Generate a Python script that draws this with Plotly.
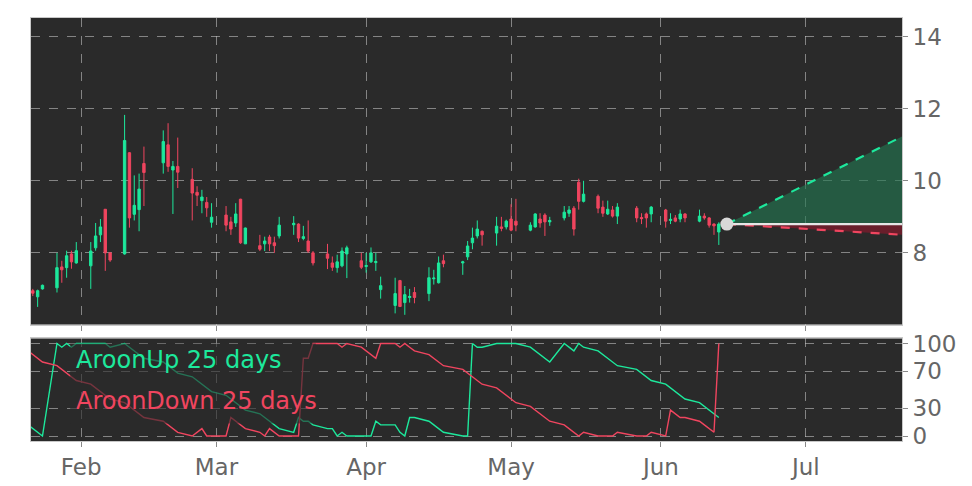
import plotly.graph_objects as go

dates = [
    "2025-01-21", "2025-01-22", "2025-01-23", "2025-01-24",
    "2025-01-27", "2025-01-28", "2025-01-29", "2025-01-30", "2025-01-31",
    "2025-02-03", "2025-02-04", "2025-02-05", "2025-02-06", "2025-02-07",
    "2025-02-10", "2025-02-11", "2025-02-12", "2025-02-13", "2025-02-14",
    "2025-02-18", "2025-02-19", "2025-02-20", "2025-02-21",
    "2025-02-24", "2025-02-25", "2025-02-26", "2025-02-27", "2025-02-28",
    "2025-03-03", "2025-03-04", "2025-03-05", "2025-03-06", "2025-03-07",
    "2025-03-10", "2025-03-11", "2025-03-12", "2025-03-13", "2025-03-14",
    "2025-03-17", "2025-03-18", "2025-03-19", "2025-03-20", "2025-03-21",
    "2025-03-24", "2025-03-25", "2025-03-26", "2025-03-27", "2025-03-28",
    "2025-03-31", "2025-04-01", "2025-04-02", "2025-04-03", "2025-04-04",
    "2025-04-07", "2025-04-08", "2025-04-09", "2025-04-10", "2025-04-11",
    "2025-04-14", "2025-04-15", "2025-04-16", "2025-04-17",
    "2025-04-21", "2025-04-22", "2025-04-23", "2025-04-24", "2025-04-25",
    "2025-04-28", "2025-04-29", "2025-04-30", "2025-05-01", "2025-05-02",
    "2025-05-05", "2025-05-06", "2025-05-07", "2025-05-08", "2025-05-09",
    "2025-05-12", "2025-05-13", "2025-05-14", "2025-05-15", "2025-05-16",
    "2025-05-19", "2025-05-20", "2025-05-21", "2025-05-22", "2025-05-23",
    "2025-05-27", "2025-05-28", "2025-05-29", "2025-05-30",
    "2025-06-02", "2025-06-03", "2025-06-04", "2025-06-05", "2025-06-06",
    "2025-06-09", "2025-06-10", "2025-06-11", "2025-06-12", "2025-06-13",
]

open_ = [
    6.85, 6.95, 6.78, 7.00,
    7.03, 7.61, 7.59, 7.97, 7.72,
    7.64, 8.14, 8.50, 9.21, 8.00,
    7.97, 10.78, 9.07, 9.20, 10.48,
    10.50, 11.00, 10.30, 10.40,
    10.04, 9.68, 9.45, 9.40, 8.85,
    9.05, 8.86, 8.83, 9.49, 8.25,
    8.20, 8.25, 8.44, 8.28, 8.47,
    8.78, 8.80, 8.40, 8.33, 8.00,
    7.97, 7.72, 7.59, 7.64, 7.97,
    7.78, 7.62, 7.75, 7.73, 6.98,
    6.54, 7.23, 6.62, 6.76, 6.90,
    6.87, 7.28, 7.17, 7.78,
    7.72, 7.89, 8.28, 8.47, 8.60,
    8.55, 8.72, 8.72, 8.94, 8.88,
    8.63, 8.72, 8.94, 9.05, 8.86,
    8.97, 9.10, 9.24, 9.96, 9.43,
    9.57, 9.27, 9.08, 9.19, 9.02,
    9.24, 8.98, 9.08, 9.08,
    9.19, 8.90, 8.97, 8.94, 9.08,
    8.88, 9.02, 8.97, 8.80, 8.58,
]

high = [
    7.00, 7.00, 6.98, 7.12,
    8.00, 7.78, 8.06, 8.06, 8.30,
    8.30, 8.83, 8.94, 9.21, 8.02,
    11.83, 10.80, 10.15, 10.20, 10.95,
    11.40, 11.60, 10.55, 11.20,
    10.35, 9.85, 9.75, 9.55, 9.38,
    9.30, 9.00, 9.38, 9.50, 8.70,
    8.50, 8.45, 8.50, 8.45, 9.00,
    9.02, 8.82, 8.75, 8.90, 8.05,
    8.25, 7.90, 7.95, 8.15, 8.20,
    8.00, 8.00, 8.15, 8.00, 7.34,
    7.31, 7.25, 7.08, 7.00, 7.05,
    7.60, 7.53, 7.90, 7.95,
    7.78, 8.33, 8.70, 8.90, 8.62,
    9.00, 9.00, 8.92, 9.35, 9.50,
    8.85, 9.10, 9.10, 9.10, 9.00,
    9.30, 9.30, 9.30, 10.06, 10.00,
    9.62, 9.45, 9.45, 9.30, 9.38,
    9.30, 9.10, 9.12, 9.30,
    9.22, 9.10, 9.05, 9.20, 9.10,
    9.20, 9.10, 8.99, 8.82, 8.85,
]

low = [
    6.70, 6.80, 6.50, 6.98,
    6.90, 7.17, 7.31, 7.56, 7.70,
    7.00, 8.06, 8.30, 7.50, 7.75,
    7.95, 8.70, 8.90, 8.60, 9.30,
    10.20, 10.25, 9.08, 9.80,
    8.90, 9.30, 9.10, 9.00, 8.70,
    8.60, 8.50, 8.72, 8.25, 8.25,
    8.05, 8.05, 8.05, 8.00, 8.40,
    8.50, 8.30, 8.35, 8.00, 7.65,
    7.55, 7.50, 7.45, 7.60, 7.30,
    7.55, 7.45, 7.72, 7.50, 6.73,
    6.32, 6.50, 6.28, 6.62, 6.60,
    6.66, 7.12, 7.15, 7.60,
    7.39, 7.80, 8.10, 8.40, 8.20,
    8.20, 8.60, 8.65, 8.60, 8.60,
    8.60, 8.70, 8.70, 8.47, 8.75,
    8.90, 9.00, 8.48, 9.20, 9.40,
    9.10, 9.00, 9.05, 8.98, 8.80,
    8.85, 8.80, 8.70, 8.85,
    8.70, 8.80, 8.85, 8.85, 8.85,
    8.85, 8.92, 8.70, 8.50, 8.22,
]

close = [
    6.95, 6.88, 6.95, 7.10,
    7.59, 7.53, 7.92, 7.75, 8.06,
    8.05, 8.47, 8.72, 8.00, 7.80,
    11.12, 8.97, 9.32, 9.77, 10.23,
    11.09, 10.40, 10.40, 10.24,
    9.66, 9.60, 9.55, 9.25, 8.99,
    8.77, 8.66, 9.08, 8.28, 8.69,
    8.10, 8.33, 8.25, 8.20, 8.77,
    8.82, 8.41, 8.45, 8.05, 7.72,
    7.85, 7.60, 7.75, 8.05, 8.14,
    7.60, 7.65, 8.00, 7.76, 7.09,
    6.87, 6.51, 6.84, 6.79, 6.76,
    7.31, 7.30, 7.72, 7.70,
    7.75, 8.19, 8.41, 8.66, 8.50,
    8.74, 8.68, 8.88, 8.63, 8.77,
    8.77, 9.08, 8.83, 8.86, 8.90,
    9.13, 9.19, 8.66, 9.43, 9.63,
    9.24, 9.10, 9.21, 9.02, 9.27,
    8.97, 8.95, 8.97, 9.27,
    8.88, 8.93, 8.88, 9.08, 8.97,
    9.02, 8.97, 8.77, 8.75, 8.80,
]

aroon_up = [
    12, 8, 4, 0,
    100, 96, 100, 96, 100,
    100, 100, 100, 100, 96,
    100, 96, 92, 88, 84,
    80, 76, 72, 68,
    64, 60, 56, 52, 48,
    44, 40, 36, 32, 28,
    24, 20, 16, 12, 8,
    4, 20, 16, 16, 12,
    8, 8, 0, 4, 0,
    0, 0, 0, 16, 12,
    12, 4, 0, 20, 20,
    16, 12, 8, 4,
    0, 0, 100, 96, 96,
    100, 100, 100, 100, 100,
    96, 92, 88, 84, 80,
    100, 96, 92, 100, 96,
    92, 88, 84, 80, 76,
    72, 68, 64, 60,
    56, 52, 48, 44, 40,
    36, 32, 28, 24, 20,
]

aroon_down = [
    92, 88, 84, 80,
    76, 72, 68, 64, 60,
    56, 52, 48, 44, 40,
    36, 32, 28, 24, 20,
    16, 12, 8, 4,
    0, 4, 8, 0, 0,
    0, 20, 16, 12, 8,
    4, 0, 8, 4, 0,
    0, 0, 84, 84, 100,
    100, 100, 100, 96, 100,
    96, 92, 88, 84, 100,
    100, 96, 100, 96, 92,
    88, 84, 80, 76,
    72, 68, 64, 60, 56,
    52, 48, 44, 40, 36,
    32, 28, 24, 20, 16,
    12, 8, 4, 0, 4,
    0, 0, 0, 0, 4,
    0, 0, 0, 4,
    0, 28, 24, 20, 20,
    16, 12, 8, 4, 100,
]

proj_x = ["2025-06-14 16:00", "2025-07-21 06:00"]
proj_mid = [8.80, 8.80]
proj_up = [8.80, 11.25]
proj_down = [8.80, 8.50]

price_ticks = [8, 10, 12, 14]
aroon_ticks = [0, 30, 70, 100]
month_ticks = ["2025-02-01", "2025-03-01", "2025-04-01", "2025-05-01", "2025-06-01", "2025-07-01"]
month_labels = ["Feb", "Mar", "Apr", "May", "Jun", "Jul"]

GREEN = "#1de89c"
RED = "#f0455f"
BG = "#2a2a2a"
GRID = "rgba(205,205,205,0.55)"
TICKC = "#666666"
FONT = "DejaVu Sans"

W, H = 972, 486
ML, MR, MT, MB = 23, 78, 2, 53
PW = W - ML - MR


def py(page_y):
    # page y -> paper fraction (panel area spans page y 16..441)
    return (441 - page_y) / 425


fig = go.Figure()

fig.add_trace(go.Candlestick(
    x=dates, open=open_, high=high, low=low, close=close,
    increasing=dict(line=dict(color=GREEN, width=1), fillcolor=GREEN),
    decreasing=dict(line=dict(color=RED, width=1), fillcolor=RED),
    whiskerwidth=0, xaxis="x", yaxis="y", showlegend=False, hoverinfo="skip",
))

fig.add_trace(go.Scatter(x=proj_x, y=proj_mid, mode="lines", line=dict(width=0),
                         xaxis="x", yaxis="y", showlegend=False, hoverinfo="skip"))
fig.add_trace(go.Scatter(x=proj_x, y=proj_up, mode="lines", fill="tonexty",
                         fillcolor="rgba(34,120,80,0.62)",
                         line=dict(color=GREEN, width=2.2, dash="dash"),
                         xaxis="x", yaxis="y", showlegend=False, hoverinfo="skip"))
fig.add_trace(go.Scatter(x=proj_x, y=proj_mid, mode="lines", line=dict(width=0),
                         xaxis="x", yaxis="y", showlegend=False, hoverinfo="skip"))
fig.add_trace(go.Scatter(x=proj_x, y=proj_down, mode="lines", fill="tonexty",
                         fillcolor="rgba(140,25,45,0.65)",
                         line=dict(color=RED, width=2.2, dash="dash"),
                         xaxis="x", yaxis="y", showlegend=False, hoverinfo="skip"))
fig.add_trace(go.Scatter(x=proj_x, y=proj_mid, mode="lines",
                         line=dict(color="#e6e6e6", width=2.2),
                         xaxis="x", yaxis="y", showlegend=False, hoverinfo="skip"))
fig.add_trace(go.Scatter(x=proj_x[:1], y=proj_mid[:1], mode="markers",
                         marker=dict(size=13, color="#d8d8d8", line=dict(width=0)),
                         xaxis="x", yaxis="y", showlegend=False, hoverinfo="skip"))

fig.add_trace(go.Scatter(x=dates, y=aroon_up, mode="lines", line=dict(color=GREEN, width=1.4),
                         xaxis="x2", yaxis="y2", showlegend=False, hoverinfo="skip"))
fig.add_trace(go.Scatter(x=dates, y=aroon_down, mode="lines", line=dict(color=RED, width=1.4),
                         xaxis="x2", yaxis="y2", showlegend=False, hoverinfo="skip"))

xrange = ["2025-01-21 15:00", "2025-07-20 22:00"]
common_x = dict(
    type="date", range=xrange, showgrid=True, gridcolor=GRID, griddash="dash", gridwidth=1,
    tickvals=month_ticks, ticktext=month_labels, ticks="outside", ticklen=5,
    tickcolor="#888888", showline=True, linecolor="#c8c8c8", linewidth=1, mirror=True,
    zeroline=False, tickfont=dict(family=FONT, size=23, color=TICKC),
)
common_y = dict(
    side="right", showgrid=True, gridcolor=GRID, griddash="dash", gridwidth=1,
    ticks="outside", ticklen=5, tickcolor="#888888", showline=True, linecolor="#c8c8c8",
    linewidth=1, mirror=True, zeroline=False,
    tickfont=dict(family=FONT, size=23, color=TICKC),
)

fig.update_layout(
    width=W, height=H,
    margin=dict(l=ML, r=MR, t=MT, b=MB),
    paper_bgcolor="white", plot_bgcolor=BG,
    showlegend=False,
    xaxis=dict(common_x, domain=[0, 1], anchor="y", showticklabels=False, rangeslider=dict(visible=False)),
    yaxis=dict(common_y, domain=[py(324), 1.0], anchor="x", range=[6.01, 14.52], tickvals=price_ticks),
    xaxis2=dict(common_x, domain=[0, 1], anchor="y2", matches="x"),
    yaxis2=dict(common_y, domain=[0.0, py(338)], anchor="x2", range=[-5.4, 105.4], tickvals=aroon_ticks),
    shapes=[dict(type="rect", xref="x2 domain", yref="y2 domain", x0=0.045, x1=0.327, y0=0.17, y1=0.95,
                 fillcolor="rgba(42,42,42,0.62)", line=dict(width=0), layer="above")],
    annotations=[
        dict(text="AroonUp 25 days", xref="paper", yref="paper", x=(74 - 31) / PW, y=py(360),
             xanchor="left", yanchor="middle", showarrow=False,
             font=dict(family=FONT, size=24, color=GREEN)),
        dict(text="AroonDown 25 days", xref="paper", yref="paper", x=(74 - 31) / PW, y=py(401),
             xanchor="left", yanchor="middle", showarrow=False,
             font=dict(family=FONT, size=24, color=RED)),
    ],
)

fig.write_html("out.html")
